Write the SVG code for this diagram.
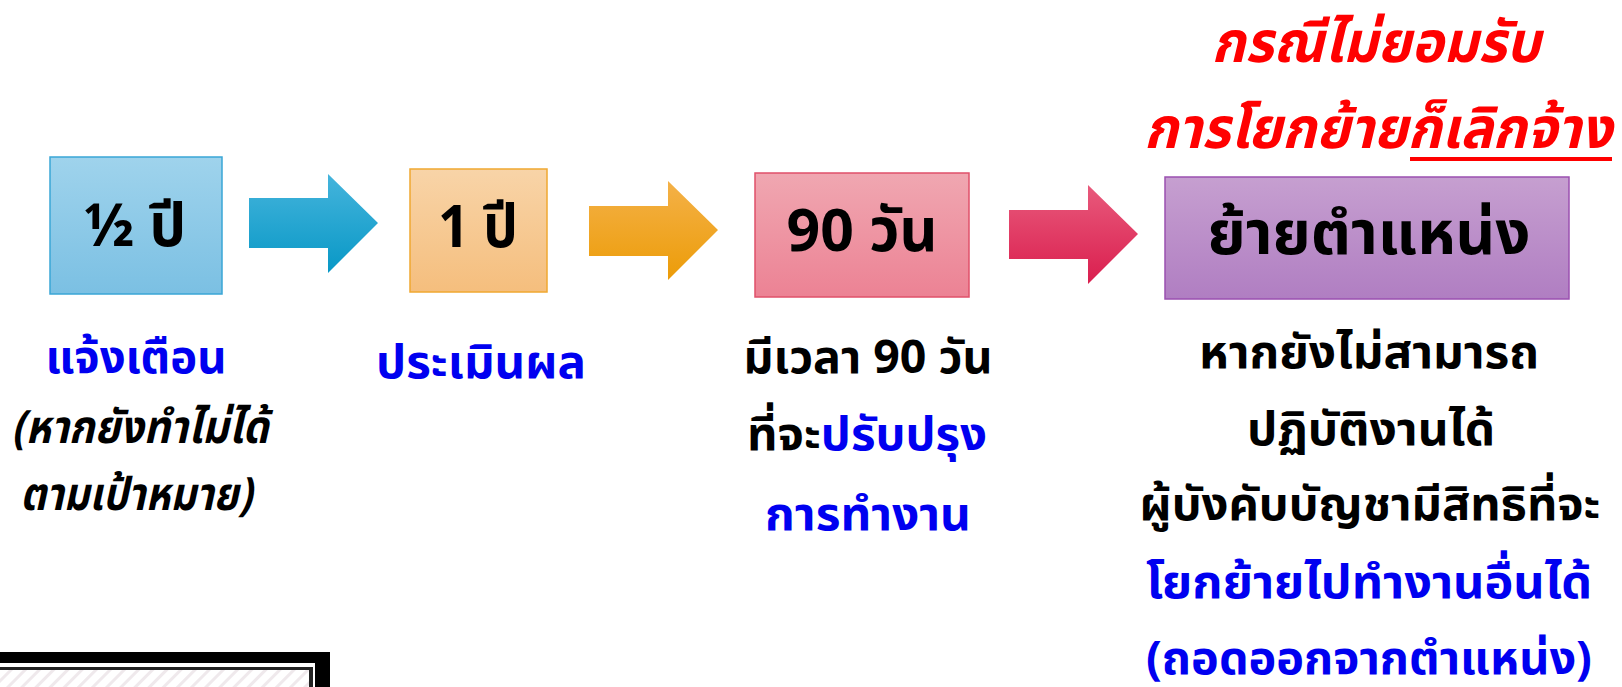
<svg xmlns="http://www.w3.org/2000/svg" width="1622" height="687" viewBox="0 0 1622 687">
<style>
.th{font-family:'Noto Sans Thai','Noto Sans','DejaVu Sans',sans-serif;font-weight:bold}
.box{font-size:60px;fill:#000;text-anchor:middle}
.lab{font-size:46px;text-anchor:middle}
.blue{fill:#0000F0}
.blk{fill:#000}
.red{fill:#FF0000;font-style:italic;font-size:57px;text-anchor:middle}
</style>
<defs>
<linearGradient id="g1" x1="0" y1="0" x2="0" y2="1"><stop offset="0" stop-color="#9FD3EC"/><stop offset="1" stop-color="#7BC0E3"/></linearGradient>
<linearGradient id="g2" x1="0" y1="0" x2="0" y2="1"><stop offset="0" stop-color="#F8D4A8"/><stop offset="1" stop-color="#F5BE7D"/></linearGradient>
<linearGradient id="g3" x1="0" y1="0" x2="0" y2="1"><stop offset="0" stop-color="#F0A7B1"/><stop offset="1" stop-color="#EC8294"/></linearGradient>
<linearGradient id="g4" x1="0" y1="0" x2="0" y2="1"><stop offset="0" stop-color="#C69FD0"/><stop offset="1" stop-color="#B07EC2"/></linearGradient>
<linearGradient id="a1" x1="0" y1="0" x2="0" y2="1"><stop offset="0" stop-color="#45B4DC"/><stop offset="1" stop-color="#0898C6"/></linearGradient>
<linearGradient id="a2" x1="0" y1="0" x2="0" y2="1"><stop offset="0" stop-color="#F4B148"/><stop offset="1" stop-color="#EC9C08"/></linearGradient>
<linearGradient id="a3" x1="0" y1="0" x2="0" y2="1"><stop offset="0" stop-color="#E85A7C"/><stop offset="1" stop-color="#DA1E4E"/></linearGradient>
<pattern id="hatch" width="10" height="10" patternUnits="userSpaceOnUse" patternTransform="rotate(45)">
<rect width="10" height="10" fill="#FFFFFF"/><rect width="3" height="10" fill="#EFE9EC"/>
</pattern>
</defs>

<g id="frame">
<rect x="-10" y="652" width="340" height="50" fill="#000"/>
<rect x="-10" y="663" width="325" height="40" fill="#FFFFFF"/>
<rect x="-10" y="667" width="323" height="40" fill="#222"/>
<rect x="-10" y="670" width="319" height="40" fill="url(#hatch)"/>
</g>

<g id="connectors">
<polygon points="249,198 328,198 328,174 378,223 328,273 328,248 249,248" fill="url(#a1)"/>
<polygon points="589,206 668,206 668,181 718,230 668,280 668,256 589,256" fill="url(#a2)"/>
<polygon points="1009,210 1088,210 1088,185 1138,234 1088,284 1088,259 1009,259" fill="url(#a3)"/>
</g>

<g id="node1">
<rect x="50" y="157" width="172" height="137" fill="url(#g1)" stroke="#3AA6D6" stroke-width="1.5"/>
<text x="135" y="246" class="th box" textLength="102" lengthAdjust="spacingAndGlyphs">½ ปี</text>
</g>
<g id="node2">
<rect x="410" y="169" width="137" height="123" fill="url(#g2)" stroke="#F0A830" stroke-width="1.5"/>
<text x="478" y="247" class="th box" textLength="80" lengthAdjust="spacingAndGlyphs">1 ปี</text>
</g>
<g id="node3">
<rect x="755" y="173" width="214" height="124" fill="url(#g3)" stroke="#E0506A" stroke-width="1.5"/>
<text x="862" y="251" class="th box" textLength="151" lengthAdjust="spacingAndGlyphs">90 วัน</text>
</g>
<g id="node4">
<rect x="1165" y="177" width="404" height="122" fill="url(#g4)" stroke="#9B50B0" stroke-width="1.5"/>
<text x="1369" y="254" class="th box" textLength="323" lengthAdjust="spacingAndGlyphs">ย้ายตำแหน่ง</text>
</g>

<g id="title">
<text x="1376" y="62" class="th red" textLength="329" lengthAdjust="spacingAndGlyphs">กรณีไม่ยอมรับ</text>
<text x="1378" y="148" class="th red" textLength="468" lengthAdjust="spacingAndGlyphs">การโยกย้ายก็เลิกจ้าง</text>
<rect x="1410" y="157" width="202" height="4" fill="#FF0000"/>
</g>

<g id="label1">
<text x="136" y="373" class="th lab blue" textLength="181" lengthAdjust="spacingAndGlyphs">แจ้งเตือน</text>
<text x="140" y="443" class="th lab blk" font-style="italic" textLength="257" lengthAdjust="spacingAndGlyphs">(หากยังทำไม่ได้</text>
<text x="136" y="510" class="th lab blk" font-style="italic" textLength="232" lengthAdjust="spacingAndGlyphs">ตามเป้าหมาย)</text>
</g>
<g id="label2">
<text x="481" y="378" class="th lab blue" textLength="210" lengthAdjust="spacingAndGlyphs">ประเมินผล</text>
</g>
<g id="label3">
<text x="868" y="373" class="th lab blk" textLength="249" lengthAdjust="spacingAndGlyphs">มีเวลา 90 วัน</text>
<text x="867" y="450" class="th lab blk" textLength="240" lengthAdjust="spacingAndGlyphs">ที่จะ<tspan class="blue">ปรับปรุง</tspan></text>
<text x="868" y="530" class="th lab blue" textLength="206" lengthAdjust="spacingAndGlyphs">การทำงาน</text>
</g>
<g id="label4">
<text x="1369" y="368" class="th lab blk" textLength="340" lengthAdjust="spacingAndGlyphs">หากยังไม่สามารถ</text>
<text x="1371" y="445" class="th lab blk" textLength="248" lengthAdjust="spacingAndGlyphs">ปฏิบัติงานได้</text>
<text x="1370" y="520" class="th lab blk" textLength="461" lengthAdjust="spacingAndGlyphs">ผู้บังคับบัญชามีสิทธิที่จะ</text>
<text x="1369" y="598" class="th lab blue" textLength="446" lengthAdjust="spacingAndGlyphs">โยกย้ายไปทำงานอื่นได้</text>
<text x="1369" y="674" class="th lab blue" textLength="446" lengthAdjust="spacingAndGlyphs">(ถอดออกจากตำแหน่ง)</text>
</g>
</svg>
